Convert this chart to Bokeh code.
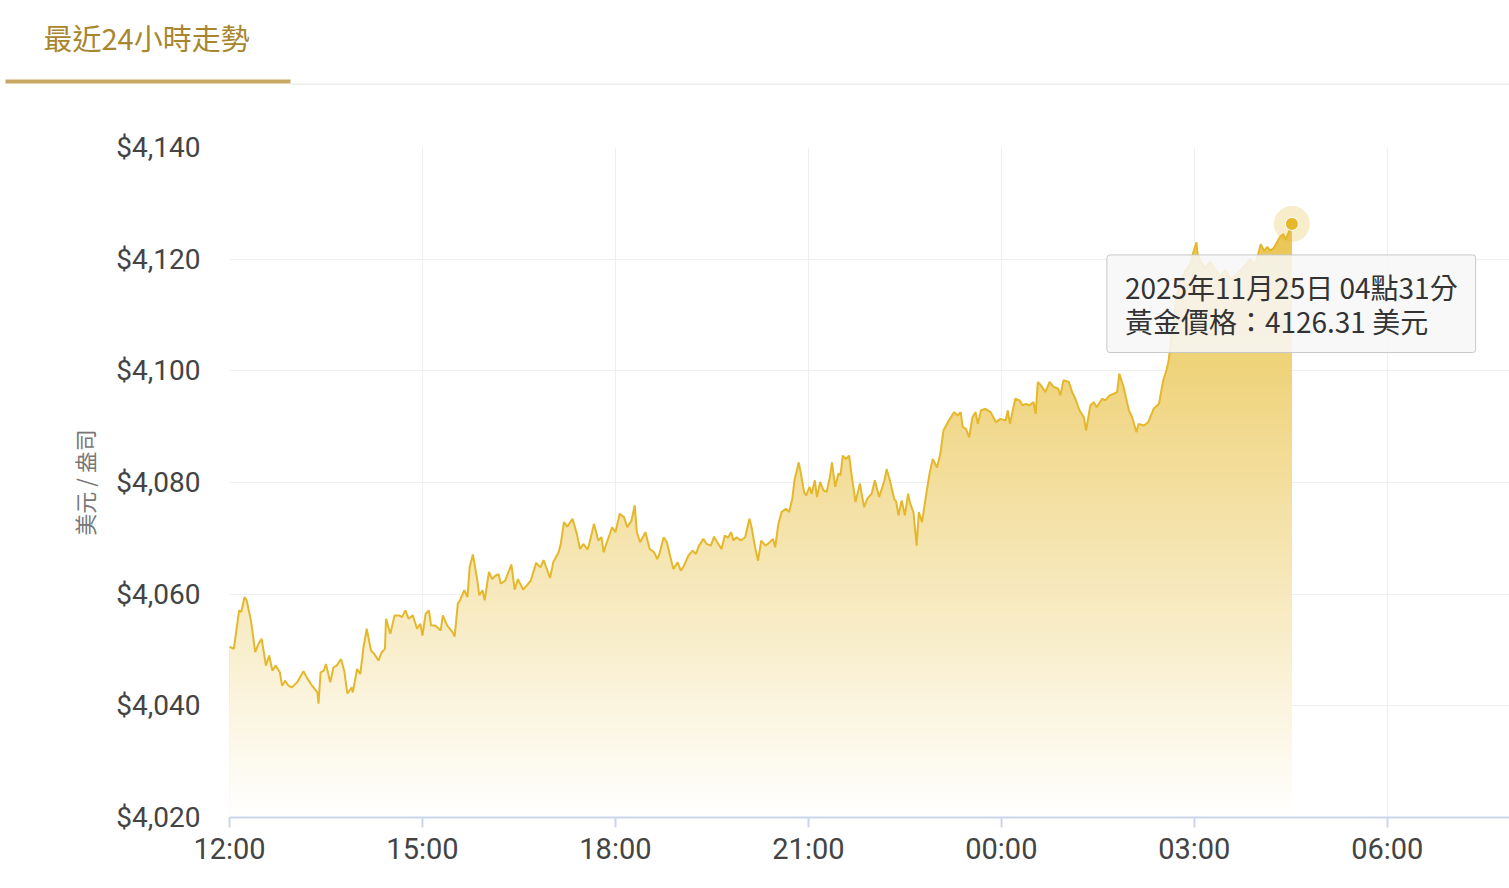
import numpy as np
from bokeh.plotting import figure
from bokeh.layouts import column
from bokeh.models import (FixedTicker, NumeralTickFormatter, Label, Range1d)
from bokeh.core.properties import value
from bokeh.embed import file_html
from bokeh.resources import INLINE

# ---- data: minutes after 12:00 (24 Nov) and gold price (USD / oz) ----
minutes = [0, 4, 9, 11, 14, 16, 20, 24, 27, 30, 34, 37, 40, 43, 47, 49, 52, 55, 58, 63,
           69, 72, 77, 82, 83, 85, 88, 90, 94, 97, 100, 104, 107, 110, 114, 115, 119, 122, 125, 128,
           132, 135, 139, 142, 145, 146, 150, 154, 158, 161, 164, 167, 171, 175, 178, 180, 183, 186, 188, 192,
           197, 199, 203, 208, 210, 213, 215, 219, 222, 224, 227, 231, 233, 236, 238, 242, 245, 248, 251, 253,
           257, 263, 266, 269, 274, 281, 286, 290, 293, 299, 302, 307, 309, 312, 315, 320, 324, 327, 330, 334,
           336, 340, 344, 347, 349, 352, 357, 360, 364, 368, 371, 375, 378, 380, 383, 388, 392, 396, 399, 401,
           405, 408, 411, 414, 418, 421, 424, 428, 432, 435, 438, 442, 445, 449, 452, 455, 459, 462, 465, 468,
           470, 473, 477, 481, 485, 487, 490, 493, 496, 500, 504, 507, 509, 512, 515, 519, 522, 525, 527, 531,
           533, 536, 538, 541, 543, 546, 548, 551, 554, 557, 560, 562, 565, 568, 570, 572, 575, 578, 581, 584,
           588, 592, 595, 599, 602, 606, 611, 613, 616, 620, 622, 624, 627, 630, 633, 635, 638, 641, 643, 646,
           650, 653, 656, 660, 663, 666, 671, 676, 679, 682, 684, 687, 690, 693, 696, 698, 701, 705, 710, 715,
           719, 724, 726, 728, 733, 737, 740, 743, 746, 750, 752, 754, 757, 761, 765, 769, 773, 775, 778, 783,
           786, 789, 793, 797, 799, 803, 806, 809, 814, 817, 821, 825, 828, 830, 834, 839, 842, 846, 848, 853,
           857, 862, 867, 871, 874, 876, 880, 883, 887, 892, 896, 899, 902, 903, 906, 910, 915, 920, 924, 929,
           934, 938, 943, 948, 952, 957, 962, 965, 968, 971, 974, 977, 980, 983, 985, 988, 991]
prices = [4050.6, 4050.2, 4057.1, 4056.8, 4059.5, 4058.9, 4055.3, 4049.6, 4051.1, 4052.0,
          4047.2, 4049.0, 4046.3, 4047.2, 4046.0, 4043.6, 4044.5, 4043.6, 4043.3, 4044.2,
          4046.2, 4045.1, 4043.6, 4042.4, 4040.4, 4046.0, 4046.3, 4047.5, 4044.2, 4046.9,
          4047.2, 4048.4, 4046.3, 4042.2, 4043.3, 4042.4, 4046.6, 4045.7, 4050.5, 4053.8,
          4049.9, 4049.3, 4048.1, 4049.6, 4050.2, 4055.6, 4052.9, 4056.2, 4056.2, 4055.9,
          4057.1, 4055.6, 4056.2, 4053.8, 4054.7, 4052.6, 4056.5, 4057.1, 4054.4, 4054.4,
          4053.5, 4056.2, 4054.4, 4053.2, 4052.4, 4058.3, 4058.9, 4060.7, 4059.5, 4064.8,
          4067.1, 4062.7, 4059.8, 4060.7, 4058.9, 4064.0, 4062.7, 4063.3, 4063.6, 4061.9,
          4062.4, 4065.3, 4060.8, 4062.7, 4060.8, 4062.4, 4065.6, 4064.8, 4066.1, 4062.9,
          4065.7, 4067.5, 4069.0, 4072.9, 4072.1, 4073.5, 4070.8, 4068.1, 4069.0, 4068.0,
          4069.3, 4072.6, 4069.6, 4070.2, 4067.5, 4069.3, 4072.0, 4071.1, 4074.4, 4073.8,
          4072.0, 4073.2, 4075.9, 4071.1, 4069.3, 4071.1, 4068.1, 4067.5, 4066.3, 4067.2,
          4070.2, 4069.3, 4066.9, 4064.5, 4065.7, 4064.2, 4065.1, 4066.9, 4067.8, 4067.2,
          4068.7, 4069.9, 4069.0, 4068.7, 4070.3, 4069.3, 4068.1, 4070.5, 4070.1, 4071.1,
          4069.6, 4070.2, 4069.6, 4070.2, 4073.5, 4072.0, 4068.7, 4066.0, 4069.6, 4068.7,
          4069.3, 4069.9, 4068.4, 4072.6, 4074.7, 4075.3, 4074.7, 4077.1, 4080.4, 4083.6,
          4081.6, 4078.3, 4077.7, 4079.2, 4078.0, 4080.4, 4077.4, 4080.1, 4078.6, 4078.3,
          4080.9, 4083.6, 4079.2, 4081.6, 4081.3, 4084.8, 4084.2, 4084.8, 4080.4, 4076.5,
          4079.8, 4075.6, 4077.1, 4078.0, 4080.4, 4077.4, 4080.4, 4082.4, 4080.4, 4077.1,
          4076.5, 4074.1, 4076.8, 4074.1, 4078.0, 4076.2, 4074.7, 4068.7, 4074.7, 4072.9,
          4078.0, 4081.6, 4084.2, 4082.7, 4085.1, 4089.3, 4091.1, 4092.6, 4092.0, 4092.6,
          4089.9, 4089.6, 4088.1, 4091.7, 4092.6, 4090.5, 4092.9, 4093.2, 4092.6, 4090.8,
          4091.4, 4091.1, 4092.9, 4090.5, 4095.0, 4094.7, 4093.8, 4094.1, 4093.8, 4094.4,
          4092.3, 4098.0, 4097.4, 4096.2, 4098.0, 4097.1, 4096.8, 4095.6, 4098.3, 4098.0,
          4096.2, 4095.0, 4092.9, 4091.7, 4089.3, 4093.8, 4094.4, 4093.5, 4095.0, 4094.7,
          4095.6, 4095.9, 4096.2, 4099.5, 4097.1, 4092.9, 4091.7, 4089.0, 4090.5, 4090.2,
          4090.8, 4093.2, 4094.1, 4098.3, 4100.1, 4101.8, 4108.0, 4113.0, 4116.0, 4118.0,
          4119.0, 4121.2, 4123.0, 4121.0, 4119.5, 4118.5, 4119.5, 4118.0, 4117.0, 4118.0,
          4116.5, 4117.0, 4118.0, 4119.0, 4120.0, 4119.0, 4122.7, 4121.5, 4122.2, 4121.5,
          4122.0, 4123.0, 4124.0, 4124.5, 4123.5, 4124.8, 4126.31]

x_tick_minutes = [0, 180, 360, 540, 720, 900, 1080]
x_tick_labels = ["12:00", "15:00", "18:00", "21:00", "00:00", "03:00", "06:00"]
y_ticks = [4020, 4040, 4060, 4080, 4100, 4120, 4140]

title_text = "最近24小時走勢"
y_axis_title = "美元 / 盎司"
tooltip_lines = ["2025年11月25日 04點31分", "黃金價格：4126.31 美元"]

GOLD = (229, 184, 44)
LINE_COLOR = "#e5b82c"
CJK = "Noto Sans CJK TC"
PAGE_W = 1509

# ---------------- header (tab title with underline) ----------------
HEAD_H = 98
head = figure(width=PAGE_W, height=HEAD_H, output_backend="svg", toolbar_location=None,
              x_range=Range1d(0, PAGE_W), y_range=Range1d(HEAD_H, 0),
              min_border=0, x_axis_type=None, y_axis_type=None)
head.outline_line_color = None
head.xgrid.visible = False
head.ygrid.visible = False
head.background_fill_color = "white"
head.border_fill_color = "white"
head.text(x=[43], y=[36], text=[title_text], text_font=value(CJK), text_font_size="29px",
          text_color="#a8862e", text_align="left", text_baseline="middle")
head.quad(left=[290], right=[PAGE_W], top=[83], bottom=[84.5], fill_color="#ececec", line_color=None)
head.quad(left=[5], right=[290], top=[79], bottom=[83], fill_color="#c9a864", line_color=None)

# ---------------- main chart ----------------
FRAME_TOP, FRAME_BOTTOM = 147 - HEAD_H, 817 - HEAD_H
H = FRAME_BOTTOM + 61
p = figure(width=PAGE_W, height=H, output_backend="svg", toolbar_location=None,
           x_range=Range1d(0, 1194), y_range=Range1d(4020, 4140),
           min_border_left=229, min_border_top=FRAME_TOP, min_border_right=0,
           min_border_bottom=61)
p.outline_line_color = None
p.background_fill_color = "white"
p.border_fill_color = "white"

# keep the header from being frame-aligned with the chart
for fig in (head, p):
    try:
        fig.frame_align = False
    except Exception:
        pass

p.xgrid.ticker = FixedTicker(ticks=x_tick_minutes)
p.ygrid.ticker = FixedTicker(ticks=y_ticks)
p.xgrid.grid_line_color = "#efefef"
p.ygrid.grid_line_color = "#efefef"

xa = p.xaxis[0]
xa.ticker = FixedTicker(ticks=x_tick_minutes)
xa.major_label_overrides = {m: lab for m, lab in zip(x_tick_minutes, x_tick_labels)}
xa.axis_line_color = "#ccd6eb"
xa.axis_line_width = 2
xa.major_tick_line_color = "#ccd6eb"
xa.major_tick_line_width = 2
xa.major_tick_out = 10
xa.major_tick_in = 0
xa.minor_tick_line_color = None
xa.major_label_text_font = "Roboto"
xa.major_label_text_font_size = "29px"
xa.major_label_text_color = "#444444"
xa.major_label_standoff = 4

ya = p.yaxis[0]
ya.ticker = FixedTicker(ticks=y_ticks)
ya.formatter = NumeralTickFormatter(format="$0,0")
ya.axis_line_color = None
ya.major_tick_line_color = None
ya.minor_tick_line_color = None
ya.major_tick_out = 0
ya.major_tick_in = 0
ya.major_label_text_font = "Roboto"
ya.major_label_text_font_size = "28px"
ya.major_label_text_color = "#444444"
ya.major_label_standoff = 29
ya.axis_label = y_axis_title
ya.axis_label_text_font = CJK
ya.axis_label_text_font_size = "22px"
ya.axis_label_text_font_style = "normal"
ya.axis_label_text_color = "#777777"
ya.axis_label_standoff = 13

# gradient area (stacked bands, each clipped at a lower price level)
t = np.array(minutes, dtype=float)
pr = np.array(prices, dtype=float)
base = y_ticks[0]
top_p = pr.max()
n_bands = 70
levels = np.linspace(top_p, base, n_bands, endpoint=False)
step = (top_p - base) / n_bands
for hi in levels:
    frac = max(0.0, (hi - step / 2 - base) / (top_p - base))
    a = 0.82 * frac
    r = int(round(255 - a * (255 - GOLD[0])))
    g = int(round(255 - a * (255 - GOLD[1])))
    b = int(round(255 - a * (255 - GOLD[2])))
    p.varea(x=t, y1=base, y2=np.minimum(pr, hi),
            fill_color="#%02x%02x%02x" % (r, g, b), fill_alpha=1.0)

p.line(t, pr, line_color=LINE_COLOR, line_width=2)

# hover marker on the last point
p.scatter([t[-1]], [pr[-1]], size=36, fill_color=LINE_COLOR, fill_alpha=0.25, line_color=None)
p.scatter([t[-1]], [pr[-1]], size=13, fill_color=LINE_COLOR, line_color="white", line_width=1)

# tooltip (shadow + box)
tip_text = "\n".join(tooltip_lines)
TX, TY = -185, -31
PAD = (18, 12)   # (horizontal, vertical)
for dx, al in [(3, 0.05), (2, 0.07)]:
    p.add_layout(Label(x=t[-1], y=pr[-1], x_offset=TX + dx, y_offset=TY - dx, text=tip_text,
                       text_font=CJK, text_font_size="28px", text_alpha=0.0,
                       text_align="left", text_baseline="top", text_line_height=0.84,
                       background_fill_color="black", background_fill_alpha=al,
                       padding=PAD, border_radius=3))
p.add_layout(Label(x=t[-1], y=pr[-1], x_offset=TX, y_offset=TY, text=tip_text,
                   text_font=CJK, text_font_size="28px", text_color="#333333",
                   text_align="left", text_baseline="top", text_line_height=0.84,
                   background_fill_color="#f7f7f7", background_fill_alpha=0.86,
                   border_line_color="#c8c8c8", border_line_width=1,
                   padding=PAD, border_radius=3))

layout = column(head, p, spacing=0)
open("out.html", "w").write(file_html(layout, INLINE))
